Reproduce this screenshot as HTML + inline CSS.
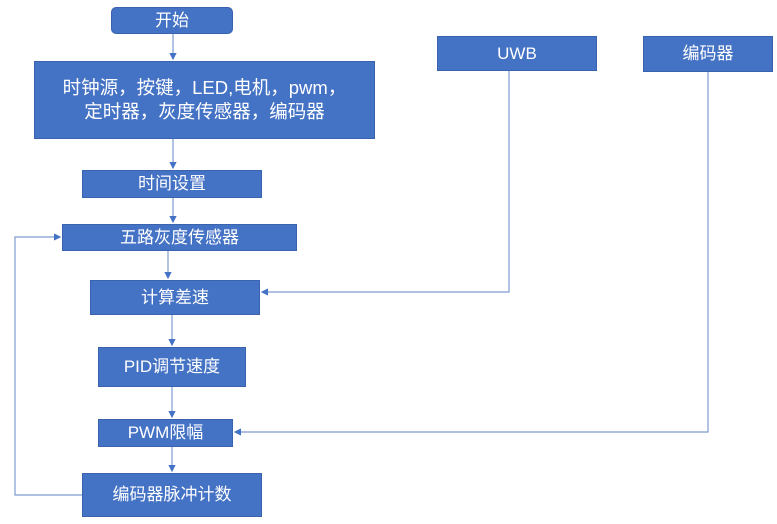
<!DOCTYPE html>
<html><head><meta charset="utf-8"><style>
body{margin:0;width:777px;height:524px;background:#fff;overflow:hidden;position:relative;font-family:"Liberation Sans","Noto Sans CJK SC",sans-serif}
.b{position:absolute;background:#4472c4;color:#fff;display:flex;align-items:center;justify-content:center;text-align:center;font-size:17px;border:1px solid #3a63ad;box-sizing:border-box;line-height:22px}
svg{position:absolute;left:0;top:0}
</style></head><body>
<svg width="777" height="524">
<defs><marker id="a" markerWidth="6" markerHeight="6" refX="5" refY="3" orient="auto"><path d="M0,0L6,3L0,6z" fill="#4472c4"/></marker></defs>
<g stroke="#7f9bd0" stroke-width="1.2" fill="none">
<line x1="173" y1="33" x2="173" y2="59" marker-end="url(#a)"/>
<line x1="173" y1="139" x2="173" y2="168" marker-end="url(#a)"/>
<line x1="173" y1="198" x2="173" y2="222" marker-end="url(#a)"/>
<line x1="168" y1="251" x2="168" y2="278" marker-end="url(#a)"/>
<line x1="172" y1="315" x2="172" y2="345" marker-end="url(#a)"/>
<line x1="172" y1="387" x2="172" y2="417" marker-end="url(#a)"/>
<line x1="172" y1="447" x2="172" y2="471" marker-end="url(#a)"/>
<polyline points="82,495 15,495 15,237 60,237" marker-end="url(#a)"/>
<polyline points="509,71 509,292 262,292" marker-end="url(#a)"/>
<polyline points="708,72 708,432 235,432" marker-end="url(#a)"/>
</g></svg>
<div class="b" style="left:111px;top:7px;width:122px;height:27px;border-radius:5px">开始</div>
<div class="b" style="left:34px;top:61px;width:341px;height:78px;font-size:18.5px;line-height:24px">时钟源，按键，LED,电机，pwm，<br>定时器，灰度传感器，编码器</div>
<div class="b" style="left:82px;top:170px;width:180px;height:28px">时间设置</div>
<div class="b" style="left:62px;top:224px;width:235px;height:27px">五路灰度传感器</div>
<div class="b" style="left:90px;top:280px;width:170px;height:35px">计算差速</div>
<div class="b" style="left:98px;top:347px;width:148px;height:40px">PID调节速度</div>
<div class="b" style="left:98px;top:419px;width:135px;height:28px">PWM限幅</div>
<div class="b" style="left:82px;top:473px;width:180px;height:44px">编码器脉冲计数</div>
<div class="b" style="left:437px;top:36px;width:160px;height:35px">UWB</div>
<div class="b" style="left:643px;top:36px;width:130px;height:36px">编码器</div>
</body></html>
